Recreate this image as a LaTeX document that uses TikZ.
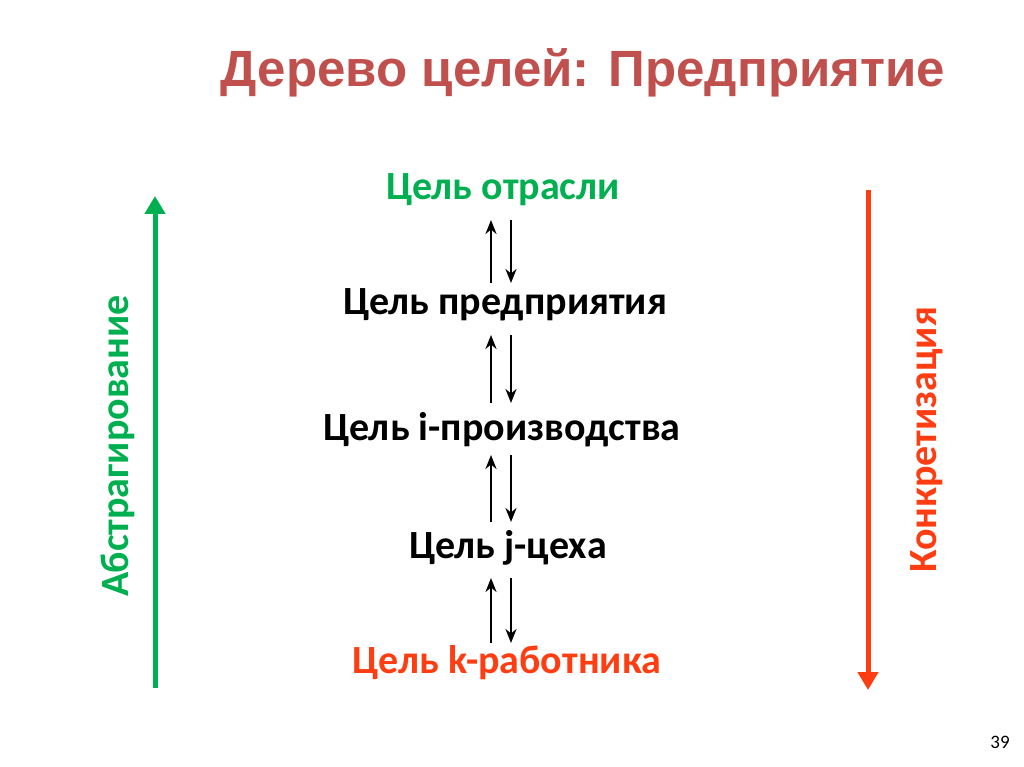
\documentclass[tikz,border=0pt]{standalone}
\usepackage{fontspec}
\setmainfont{Carlito}
\newfontfamily\titlefont{Liberation Sans}
\usetikzlibrary{arrows.meta}
\definecolor{ttl}{HTML}{C0504D}
\definecolor{grn}{HTML}{00B050}
\definecolor{rd}{HTML}{FF3D12}
\begin{document}
\begin{tikzpicture}[x=1pt,y=-1pt,
 lvl/.style={font=\fontsize{40}{44}\selectfont\bfseries, inner sep=0pt},
 ud/.style={line width=2.6pt,-{Stealth[length=14pt,width=11pt]}},
 big/.style={line width=5pt,-{Triangle[length=18pt,width=20pt]}}]
\useasboundingbox[fill=white] (0,0) rectangle (1024,767);
\node[font=\titlefont\fontsize{51}{56}\selectfont\bfseries,text=ttl] (title) at (583,73) {Дерево целей: Предприятие};
\node[lvl,text=grn] (n1) at (503,190) {Цель отрасли};
\node[lvl] (n2) at (505,305) {Цель предприятия};
\node[lvl] (n3) at (502,430) {Цель i-производства};
\node[lvl] (n4) at (508,548) {Цель j-цеха};
\node[lvl,text=rd] (n5) at (507,663) {Цель k-работника};
\foreach \i/\t/\b in {1/220/283,2/335/403,3/455/522,4/578/643}{
 \coordinate (lt\i) at (491,\t); \coordinate (lb\i) at (491,\b);
 \coordinate (rt\i) at (511,\t); \coordinate (rb\i) at (511,\b);
 \draw[ud] (lb\i) -- (lt\i);
 \draw[ud] (rt\i) -- (rb\i);
}
\coordinate (gb) at (155,688); \coordinate (gt) at (155,196);
\draw[big,grn] (gb) -- (gt);
\coordinate (rt) at (868,190); \coordinate (rb) at (868,690);
\draw[big,rd] (rt) -- (rb);
\node[lvl,text=grn,rotate=90] (abs) at (118,446) {Абстрагирование};
\node[lvl,text=rd,rotate=90] (kon) at (927,440) {Конкретизация};
\node[font=\fontsize{19}{22}\selectfont] (pg) at (1000,742) {39};
\end{tikzpicture}
\end{document}
